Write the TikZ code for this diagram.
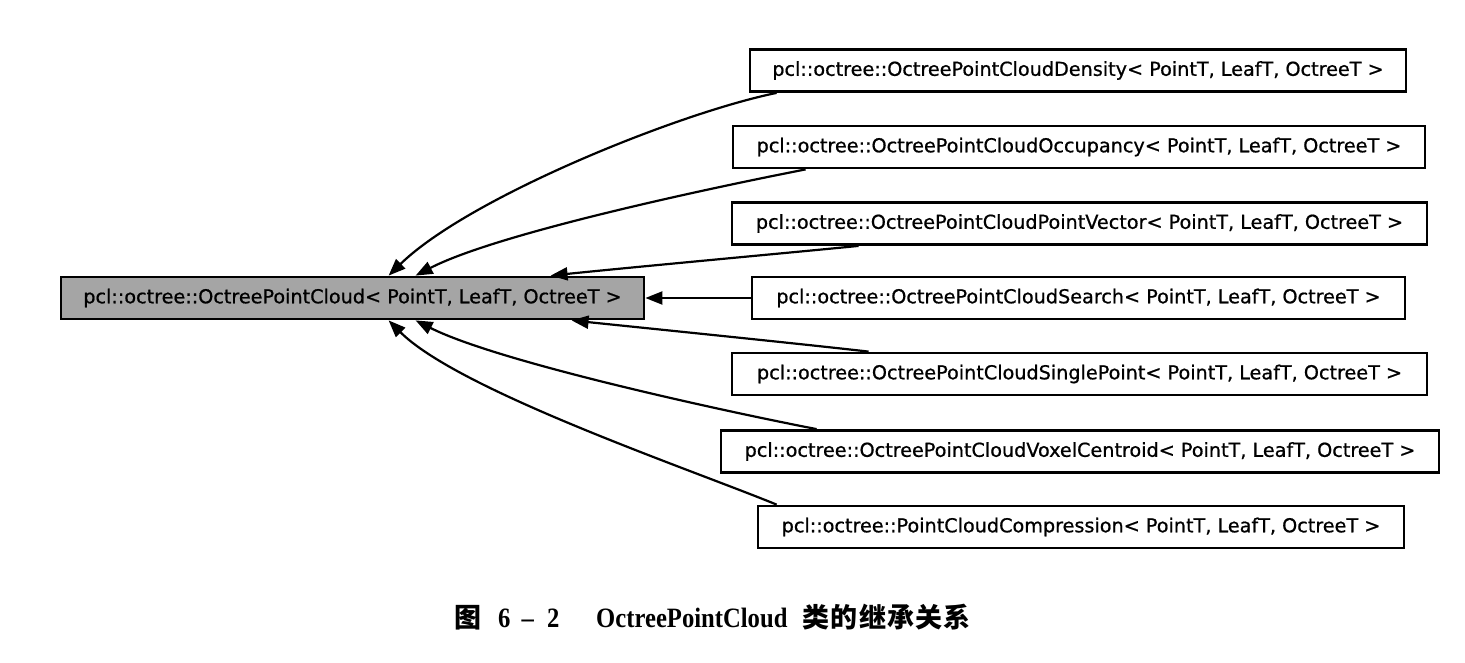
\documentclass[tikz,border=0pt]{standalone}
\usepackage{fontspec}
\usetikzlibrary{arrows.meta,calc}
\newfontfamily\boxfont[FakeBold=0.8]{DejaVu Sans}
\newfontfamily\capfont[FakeStretch=0.88]{Liberation Serif}
\newfontfamily\cjk{Noto Sans CJK SC}
\definecolor{basegray}{RGB}{165,165,165}
\tikzset{
  cls/.style={draw=black, line width=2.8pt, rectangle, inner sep=0pt,
    minimum height=42pt, font=\boxfont\fontsize{19.2}{22}\selectfont},
  inh/.style={draw=black, line width=2.2pt, -{Triangle[length=17pt,width=13pt]}},
  captext/.style={anchor=base west, inner sep=0pt}
}
\begin{document}
\begin{tikzpicture}[x=1pt,y=-1pt]
\useasboundingbox (0,0) rectangle (1465,663);
\fill[white] (0,0) rectangle (1465,663);

\node[cls, fill=basegray, minimum width=583pt] (base) at (352.5,298)
  {pcl::octree::OctreePointCloud< PointT, LeafT, OctreeT >};

\node[cls, minimum width=656pt] (d1) at (1078,70.5)
  {pcl::octree::OctreePointCloudDensity< PointT, LeafT, OctreeT >};
\node[cls, minimum width=692pt] (d2) at (1079,147)
  {pcl::octree::OctreePointCloudOccupancy< PointT, LeafT, OctreeT >};
\node[cls, minimum width=695pt] (d3) at (1079.5,223.5)
  {pcl::octree::OctreePointCloudPointVector< PointT, LeafT, OctreeT >};
\node[cls, minimum width=653pt] (d4) at (1078.5,298)
  {pcl::octree::OctreePointCloudSearch< PointT, LeafT, OctreeT >};
\node[cls, minimum width=695pt] (d5) at (1079.5,374)
  {pcl::octree::OctreePointCloudSinglePoint< PointT, LeafT, OctreeT >};
\node[cls, minimum width=718pt] (d6) at (1080,451.5)
  {pcl::octree::OctreePointCloudVoxelCentroid< PointT, LeafT, OctreeT >};
\node[cls, minimum width=646pt] (d7) at (1081,527)
  {pcl::octree::PointCloudCompression< PointT, LeafT, OctreeT >};

\draw[inh] ($(d1.south west)+(28,0)$) .. controls +(-98,20) and +(80,-78) .. ($(base.north west)+(329,0)$);
\draw[inh] ($(d2.south west)+(74,0)$) .. controls +(-87,17) and +(83,-43) .. ($(base.north west)+(356,0)$);
\draw[inh] ($(d3.south west)+(128,0)$) .. controls +(-60,6) and +(98,-10) .. ($(base.north west)+(491,0)$);
\draw[inh] (d4.west) -- (base.east);
\draw[inh] ($(d5.north west)+(138,0)$) .. controls +(-70,-8) and +(77,8) .. ($(base.south west)+(512,0)$);
\draw[inh] ($(d6.north west)+(97,0)$) .. controls +(-88,-17) and +(83,42) .. ($(base.south west)+(356,0)$);
\draw[inh] ($(d7.north west)+(20,0)$) .. controls +(-88,-36) and +(70,70) .. ($(base.south west)+(329,0)$);

\node[captext] (cap) at (454,627)
  {{\cjk\bfseries\fontsize{27}{29}\selectfont 图}\hspace{17pt}{\capfont\bfseries\fontsize{28}{30}\selectfont 6\hspace{11pt}–\hspace{13.4pt}2\hspace{36.7pt}OctreePointCloud}\hspace{15pt}{\cjk\bfseries\fontsize{27}{29}\selectfont 类\hspace{1.3pt}的\hspace{1.3pt}继\hspace{1.3pt}承\hspace{1.3pt}关\hspace{1.3pt}系}};
\end{tikzpicture}
\end{document}
